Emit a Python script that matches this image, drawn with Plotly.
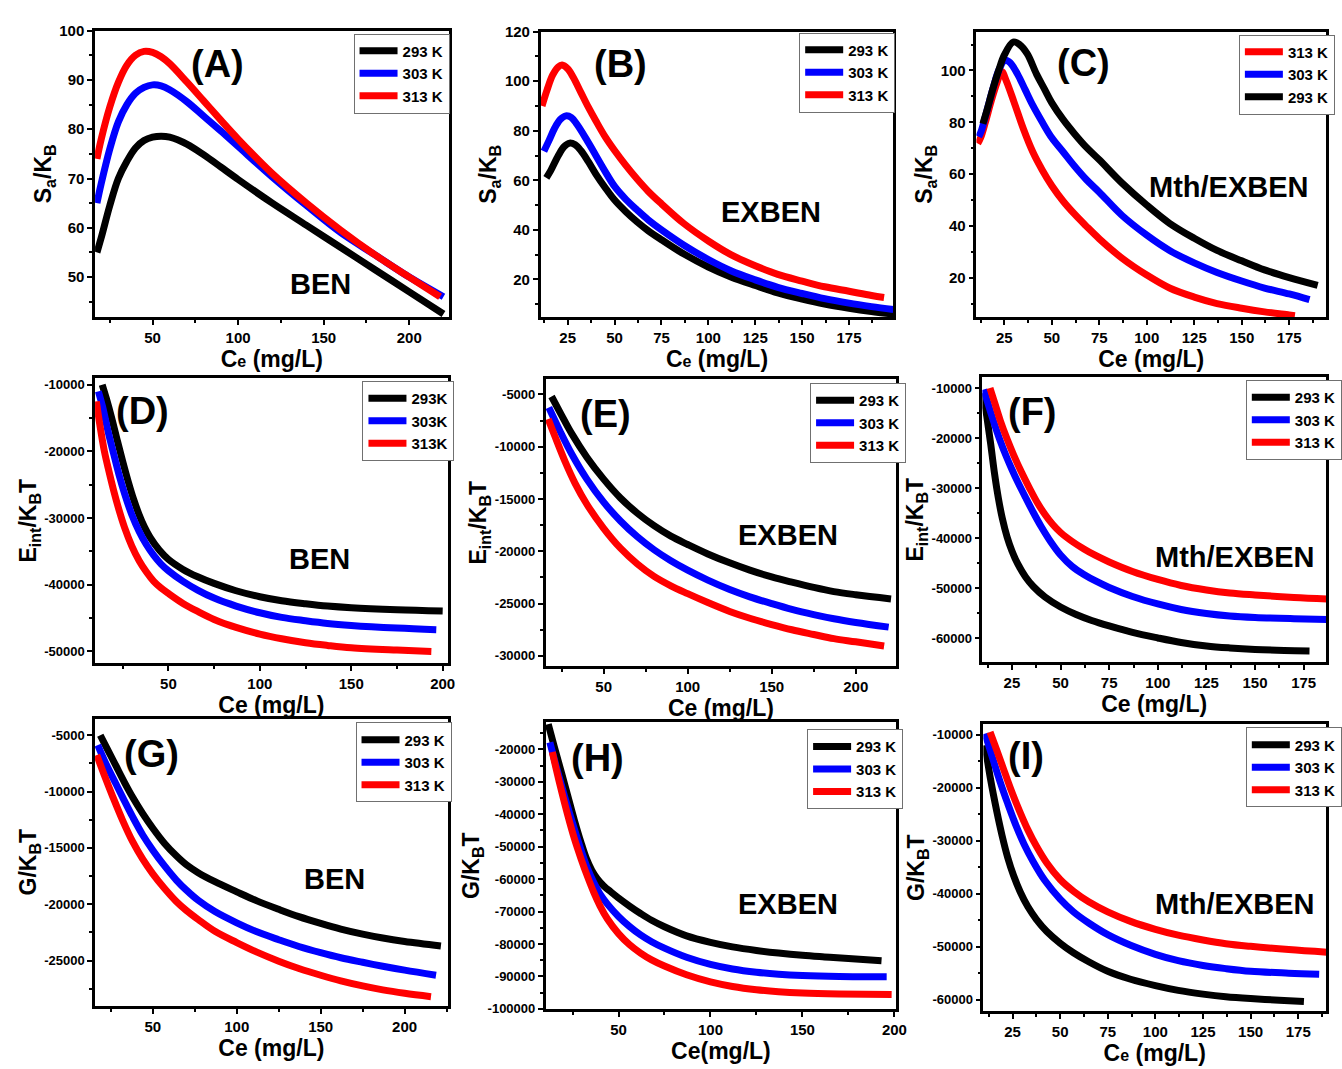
import plotly.graph_objects as go

W, H = 1342, 1069
FONT = "Liberation Sans"
BLACK, BLUE, RED = "#000000", "#0000ff", "#ff0000"

# ---------------- (A) BEN, S_a/K_B ----------------
A_X293 = [17.5, 20, 25, 30, 35, 40, 45, 50, 55, 60, 70, 80, 90, 100, 120, 140, 160, 180, 200, 220]
A_Y293 = [55, 58, 64.5, 70, 73.5, 76.2, 77.7, 78.4, 78.6, 78.4, 77, 74.8, 72.3, 69.8, 65, 60.5, 56, 51.5, 47, 42.5]
A_X303 = [17.5, 20, 25, 30, 35, 40, 45, 50, 55, 60, 70, 80, 90, 100, 120, 140, 160, 180, 200, 220]
A_Y303 = [65, 69, 76, 81.5, 85, 87.3, 88.5, 89, 88.8, 88, 85.6, 82.6, 79.6, 76.5, 70.3, 64.5, 59, 54.5, 50, 46]
A_X313 = [17.5, 20, 25, 30, 35, 40, 45, 50, 55, 60, 70, 80, 90, 100, 120, 140, 160, 180, 200, 218]
A_Y313 = [74, 78, 84.5, 89.5, 93, 95, 95.8, 95.6, 94.7, 93.3, 89.6, 85.7, 81.8, 78, 71, 65, 59.5, 54.5, 50, 46]
A_XTICKS = [50, 100, 150, 200]
A_YTICKS = [50, 60, 70, 80, 90, 100]

# ---------------- (B) EXBEN, S_a/K_B ----------------
B_X293 = [13.6, 16, 20, 23, 26, 29, 32, 36, 40, 45, 50, 56, 62, 68, 75, 87, 100, 112, 125, 137, 150, 162, 175, 187, 198.6]
B_Y293 = [61, 64, 70, 73.5, 75, 74.3, 72, 67.5, 62.5, 57, 52, 47.3, 43.2, 39.6, 36, 30.2, 25, 21, 17.5, 14.5, 12, 10, 8.3, 7, 6]
B_X303 = [12.3, 15, 18, 21, 24, 27, 30, 35, 40, 45, 50, 56, 62, 68, 75, 87, 100, 112, 125, 137, 150, 162, 175, 187, 198.6]
B_Y303 = [71.7, 76, 81, 84.5, 86, 85.3, 82.5, 76.5, 70, 63.5, 57.5, 52.3, 48, 44, 40, 33.8, 28, 23.5, 19.8, 16.8, 14.3, 12.2, 10.4, 9, 7.8]
B_X313 = [11.3, 14, 17, 20, 22, 25, 28, 32, 36, 40, 45, 50, 56, 62, 68, 75, 87, 100, 112, 125, 137, 150, 162, 175, 187, 193.7]
B_Y313 = [90, 96.5, 102.5, 105.8, 106.5, 105, 101.5, 95.5, 89.5, 84, 77.5, 72, 66, 60.5, 55.5, 50.5, 42.5, 35.5, 30, 25.5, 22, 19.3, 17, 15.2, 13.5, 12.7]
B_XTICKS = [25, 50, 75, 100, 125, 150, 175]
B_YTICKS = [20, 40, 60, 80, 100, 120]

# ---------------- (C) Mth/EXBEN, S_a/K_B ----------------
C_X313 = [11, 12.5, 15, 18, 21, 23.6, 26, 30, 35, 40, 45, 50, 56, 62, 68, 75, 87, 100, 112, 125, 137, 150, 162, 175, 178]
C_Y313 = [71.8, 74, 80, 88, 95, 99.6, 96, 88, 77.5, 68.5, 61.5, 55.5, 49.5, 44.5, 40, 35, 27.5, 21, 16, 12.5, 10, 8.2, 6.8, 5.6, 5.3]
C_X303 = [11.5, 13, 16, 19, 22, 25.3, 28, 32, 36, 40, 45, 50, 56, 62, 68, 75, 87, 100, 112, 125, 137, 150, 162, 175, 185.7]
C_Y303 = [74.4, 77, 85, 93, 100, 104, 103, 98.5, 92.5, 86.5, 80, 74, 68.5, 63, 58, 53, 44, 36.4, 30.5, 25.7, 22, 18.7, 16, 13.7, 11.5]
C_X293 = [13.7, 16, 19, 22, 25, 29.7, 33, 37, 42, 46, 50, 56, 62, 68, 75, 87, 100, 112, 125, 137, 150, 162, 175, 190]
C_Y293 = [79.4, 85, 93, 100, 106, 111, 110, 106.5, 98.5, 93, 87.5, 81, 75.5, 70.5, 65.5, 56.5, 48, 41, 35.2, 30.5, 26.5, 23, 20, 17]
C_XTICKS = [25, 50, 75, 100, 125, 150, 175]
C_YTICKS = [20, 40, 60, 80, 100]

# ---------------- (D) BEN, E_int/K_BT ----------------
D_X293 = [13.8, 16, 19, 22, 25, 28, 31, 34, 37, 40, 45, 50, 58, 66, 75, 87, 100, 112, 125, 137, 150, 175, 200]
D_Y293 = [-10000, -12000, -15000, -18300, -21500, -24500, -27200, -29500, -31400, -32900, -34800, -36200, -37700, -38800,
          -39800, -40900, -41800, -42400, -42850, -43200, -43450, -43750, -43950]
D_X303 = [11.7, 14, 17, 20, 23, 26, 30, 34, 38, 42, 46, 50, 58, 66, 75, 87, 100, 112, 125, 137, 150, 175, 196.5]
D_Y303 = [-11000, -13300, -17000, -20300, -23500, -26300, -29500, -32000, -34000, -35600, -36900, -37900, -39500, -40800,
          -42000, -43200, -44200, -44900, -45400, -45800, -46100, -46500, -46750]
D_X313 = [10.6, 12.5, 15, 17.5, 20, 23, 26, 30, 34, 38, 42, 46, 50, 58, 66, 75, 87, 100, 112, 125, 137, 150, 175, 193.8]
D_Y313 = [-12500, -16000, -20000, -23000, -25800, -28800, -31400, -34200, -36400, -38100, -39500, -40500, -41300, -42800,
          -44000, -45200, -46400, -47400, -48100, -48700, -49100, -49450, -49800, -50000]
D_XTICKS = [50, 100, 150, 200]
D_YTICKS = [-50000, -40000, -30000, -20000, -10000]

# ---------------- (E) EXBEN, E_int/K_BT ----------------
E_X293 = [19, 25, 31, 40, 50, 60, 70, 80, 90, 100, 112, 125, 137, 150, 162, 175, 187, 200, 221]
E_Y293 = [-5200, -7000, -8750, -11000, -13100, -14900, -16350, -17550, -18550, -19350, -20250, -21100, -21800, -22450,
          -22950, -23450, -23850, -24150, -24550]
E_X303 = [17.4, 24, 31, 40, 50, 60, 70, 80, 90, 100, 112, 125, 137, 150, 162, 175, 187, 200, 219.6]
E_Y303 = [-6250, -8500, -10700, -13100, -15300, -17100, -18600, -19850, -20900, -21800, -22750, -23650, -24350, -25000,
          -25550, -26050, -26450, -26800, -27250]
E_X313 = [17, 21, 27, 33, 40, 50, 60, 70, 80, 90, 100, 112, 125, 137, 150, 162, 175, 187, 200, 216.9]
E_Y313 = [-7350, -9000, -11400, -13500, -15500, -17800, -19700, -21200, -22400, -23300, -24050, -24900, -25750, -26400,
          -27000, -27500, -27950, -28350, -28650, -29050]
E_XTICKS = [50, 100, 150, 200]
E_YTICKS = [-30000, -25000, -20000, -15000, -10000, -5000]

# ---------------- (F) Mth/EXBEN, E_int/K_BT ----------------
F_X293 = [10.2, 12, 14, 16, 18, 20, 22.5, 25, 28, 32, 36, 42, 50, 58, 66, 75, 87, 100, 112, 125, 137, 150, 165, 178]
F_Y293 = [-11000, -15500, -21000, -27000, -32000, -36000, -39800, -42600, -45200, -47800, -49700, -51800, -53800, -55300,
          -56500, -57600, -58900, -60000, -60900, -61600, -62000, -62300, -62500, -62600]
F_X303 = [10.5, 13, 16, 19, 22, 25, 28, 32, 36, 40, 45, 50, 56, 62, 68, 75, 87, 100, 112, 125, 137, 150, 170, 187]
F_Y303 = [-10300, -13500, -17200, -20600, -23600, -26300, -28800, -31900, -34900, -37700, -40800, -43400, -45700, -47300,
          -48600, -49900, -51700, -53200, -54300, -55100, -55600, -55900, -56150, -56300]
F_X313 = [13.7, 16, 19, 22.5, 26, 30, 34, 38, 42, 46, 50, 56, 62, 68, 75, 87, 100, 112, 125, 137, 150, 170, 187]
F_Y313 = [-10000, -12800, -16500, -20200, -23500, -26900, -30000, -32900, -35300, -37300, -38900, -40700, -42200, -43500,
          -44800, -46700, -48300, -49500, -50400, -51000, -51400, -51900, -52200]
F_XTICKS = [25, 50, 75, 100, 125, 150, 175]
F_YTICKS = [-60000, -50000, -40000, -30000, -20000, -10000]

# ---------------- (G) BEN, G/K_BT ----------------
G_X293 = [18.7, 23, 28, 33, 38, 44, 50, 57, 64, 70, 77, 87, 100, 112, 125, 137, 150, 162, 175, 187, 200, 221.6]
G_Y293 = [-5000, -6250, -7700, -9150, -10500, -11950, -13250, -14600, -15700, -16500, -17200, -18000, -18900, -19700,
          -20450, -21100, -21700, -22200, -22650, -23000, -23300, -23700]
G_X303 = [17.2, 22, 28, 33, 38, 44, 50, 57, 64, 70, 77, 87, 100, 112, 125, 137, 150, 162, 175, 187, 200, 218.7]
G_Y303 = [-5870, -7500, -9300, -10800, -12250, -13850, -15200, -16600, -17850, -18750, -19650, -20650, -21650, -22450,
          -23150, -23750, -24300, -24750, -25150, -25500, -25850, -26300]
G_X313 = [16.6, 21, 26, 32, 38, 44, 50, 57, 64, 70, 77, 87, 100, 112, 125, 137, 150, 162, 175, 187, 200, 215.7]
G_Y313 = [-6750, -8500, -10400, -12550, -14450, -16000, -17300, -18600, -19750, -20550, -21350, -22400, -23400, -24250,
          -25050, -25700, -26300, -26800, -27250, -27600, -27900, -28200]
G_XTICKS = [50, 100, 150, 200]
G_YTICKS = [-25000, -20000, -15000, -10000, -5000]

# ---------------- (H) EXBEN, G/K_BT ----------------
H_X293 = [11.8, 15, 19, 22.5, 26, 29.5, 32.5, 35.5, 38.5, 42, 46, 50, 56, 62, 68, 75, 87, 100, 112, 125, 137, 150, 162, 175, 193]
H_Y293 = [-12200, -19000, -27200, -34500, -41800, -48500, -53600, -57300, -59900, -62100, -64000, -65800, -68300, -70600,
          -72700, -74700, -77500, -79500, -80900, -82000, -82800, -83500, -84000, -84500, -85200]
H_X303 = [12.7, 16.5, 20.7, 25, 29.5, 33, 36.5, 40, 44, 50, 56, 62, 68, 75, 87, 100, 112, 125, 137, 150, 170, 195.8]
H_Y303 = [-17800, -26000, -34500, -42700, -50800, -56500, -61000, -64600, -67700, -71500, -74600, -77200, -79300, -81300,
          -84100, -86300, -87700, -88700, -89300, -89700, -90000, -90100]
H_X313 = [14, 18, 22.5, 26, 29.5, 33, 36.5, 40, 44, 50, 56, 62, 68, 75, 87, 100, 112, 125, 137, 150, 170, 198.5]
H_Y313 = [-20800, -30500, -40500, -47500, -53500, -59000, -64000, -68300, -72300, -76800, -80200, -82800, -84900, -86800,
          -89500, -91700, -93100, -94100, -94700, -95100, -95400, -95600]
H_XTICKS = [50, 100, 150, 200]
H_YTICKS = [-100000, -90000, -80000, -70000, -60000, -50000, -40000, -30000, -20000]

# ---------------- (I) Mth/EXBEN, G/K_BT ----------------
I_X293 = [10.6, 13.5, 16.7, 19.5, 22.5, 25.5, 29, 33, 37.5, 43, 50, 57, 65, 75, 87, 100, 112, 125, 137, 150, 165, 178]
I_Y293 = [-12000, -18500, -24400, -29000, -33200, -36500, -39600, -42400, -44800, -47100, -49300, -51100, -52800, -54600,
          -56100, -57300, -58200, -58900, -59400, -59750, -60050, -60300]
I_X303 = [10.6, 14, 18.4, 22.5, 27, 31, 35.8, 42, 50, 57, 65, 75, 87, 100, 112, 125, 137, 150, 170, 186]
I_Y303 = [-9800, -13800, -18800, -23000, -27300, -30600, -33900, -37500, -41000, -43400, -45500, -47700, -49700, -51400,
          -52600, -53500, -54100, -54600, -54950, -55150]
I_X313 = [13.2, 16.5, 20.1, 24, 28.8, 33, 37.5, 43, 50, 57, 65, 75, 87, 100, 112, 125, 137, 150, 170, 190]
I_Y313 = [-9500, -12700, -16300, -20200, -24500, -27900, -31000, -34200, -37300, -39500, -41500, -43400, -45200, -46700,
          -47800, -48700, -49400, -49900, -50500, -51000]
I_XTICKS = [25, 50, 75, 100, 125, 150, 175]
I_YTICKS = [-60000, -50000, -40000, -30000, -20000, -10000]

SA = "S<sub>a</sub>/K<sub>B</sub>"
EI = "E<sub>int</sub>/K<sub>B</sub>T"
GK = "G/K<sub>B</sub>T"
CE_SMALL = "C<span style='font-size:16px'>e</span> (mg/L)"
CE = "Ce (mg/L)"

# frame: left, right, top, bottom (px); axis ranges; ticks; legend corner; label & material positions
PANELS = [
    dict(tag="(A)", mat="BEN", frame=(96, 453, 22, 313), xr=(16.4, 223), yr=(41.9, 100), xt=A_XTICKS, yt=A_YTICKS,
         ytick=15, ytitle=SA, xtitle=CE_SMALL, leg=(357, 25), tagpos=(220, 56), matpos=(324, 279),
         series=[("293 K", BLACK, A_X293, A_Y293), ("303 K", BLUE, A_X303, A_Y303), ("313 K", RED, A_X313, A_Y313)]),
    dict(tag="(B)", mat="EXBEN", frame=(546, 902, 23, 313), xr=(10.6, 198.6), yr=(4.8, 120), xt=B_XTICKS, yt=B_YTICKS,
         ytick=15, ytitle=SA, xtitle=CE_SMALL, leg=(807, 24), tagpos=(627, 56), matpos=(779, 206),
         series=[("293 K", BLACK, B_X293, B_Y293), ("303 K", BLUE, B_X303, B_Y303), ("313 K", RED, B_X313, B_Y313)]),
    dict(tag="(C)", mat="Mth/EXBEN", frame=(986, 1339, 23, 313), xr=(10.3, 194.4), yr=(4.8, 115), xt=C_XTICKS, yt=C_YTICKS,
         ytick=15, ytitle=SA, xtitle=CE, leg=(1251, 26), tagpos=(1094, 55), matpos=(1241, 181),
         series=[("313 K", RED, C_X313, C_Y313), ("303 K", BLUE, C_X303, C_Y303), ("293 K", BLACK, C_X293, C_Y293)]),
    dict(tag="(D)", mat="BEN", frame=(96, 452, 375, 665), xr=(9.9, 202.7), yr=(-51800, -9000), xt=D_XTICKS, yt=D_YTICKS,
         ytick=13, ytitle=EI, xtitle=CE, leg=(366, 378), tagpos=(144, 408), matpos=(323, 559),
         series=[("293K", BLACK, D_X293, D_Y293), ("303K", BLUE, D_X303, D_Y303), ("313K", RED, D_X313, D_Y313)]),
    dict(tag="(E)", mat="EXBEN", frame=(551, 905, 376, 668), xr=(15.5, 224.1), yr=(-31000, -3530), xt=E_XTICKS, yt=E_YTICKS,
         ytick=13, ytitle=EI, xtitle=CE, leg=(818, 380), tagpos=(611, 412), matpos=(796, 535),
         series=[("293 K", BLACK, E_X293, E_Y293), ("303 K", BLUE, E_X303, E_Y303), ("313 K", RED, E_X313, E_Y313)]),
    dict(tag="(F)", mat="Mth/EXBEN", frame=(992, 1339, 374, 664), xr=(9.8, 186.5), yr=(-64900, -7800), xt=F_XTICKS, yt=F_YTICKS,
         ytick=13, ytitle=EI, xtitle=CE, leg=(1258, 377), tagpos=(1043, 410), matpos=(1247, 557),
         series=[("293 K", BLACK, F_X293, F_Y293), ("303 K", BLUE, F_X303, F_Y303), ("313 K", RED, F_X313, F_Y313)]),
    dict(tag="(G)", mat="BEN", frame=(96, 452, 721, 1013), xr=(15.6, 225.6), yr=(-29020, -3515), xt=G_XTICKS, yt=G_YTICKS,
         ytick=13, ytitle=GK, xtitle=CE, leg=(359, 725), tagpos=(153, 757), matpos=(338, 884),
         series=[("293 K", BLACK, G_X293, G_Y293), ("303 K", BLUE, G_X303, G_Y303), ("313 K", RED, G_X313, G_Y313)]),
    dict(tag="(H)", mat="EXBEN", frame=(551, 905, 725, 1016), xr=(10.4, 201), yr=(-100000, -11700), xt=H_XTICKS, yt=H_YTICKS,
         ytick=13, ytitle=GK, xtitle="Ce(mg/L)", leg=(815, 732), tagpos=(603, 761), matpos=(796, 909),
         series=[("293 K", BLACK, H_X293, H_Y293), ("303 K", BLUE, H_X303, H_Y303), ("313 K", RED, H_X313, H_Y313)]),
    dict(tag="(I)", mat="Mth/EXBEN", frame=(993, 1339, 727, 1018), xr=(9.7, 189.6), yr=(-62050, -8080), xt=I_XTICKS, yt=I_YTICKS,
         ytick=13, ytitle=GK, xtitle=CE_SMALL, leg=(1258, 730), tagpos=(1036, 759), matpos=(1247, 909),
         series=[("293 K", BLACK, I_X293, I_Y293), ("303 K", BLUE, I_X303, I_Y303), ("313 K", RED, I_X313, I_Y313)]),
]


def fx(p):
    return p / W


def fy(p):
    return 1 - p / H


fig = go.Figure()
layout = dict(
    width=W, height=H, margin=dict(l=0, r=0, t=0, b=0),
    paper_bgcolor="white", plot_bgcolor="white",
    font=dict(family=FONT, color="black"),
    annotations=[],
)

for i, p in enumerate(PANELS, start=1):
    sfx = "" if i == 1 else str(i)
    xa, ya, lg = "x" + sfx, "y" + sfx, "legend" + sfx
    left, right, top, bottom = p["frame"]

    for name, color, xs, ys in p["series"]:
        fig.add_trace(go.Scatter(
            x=xs, y=ys, mode="lines", name=name,
            line=dict(color=color, width=7, shape="spline", smoothing=1.0),
            xaxis=xa, yaxis=ya, legend=lg,
        ))

    xstep = p["xt"][1] - p["xt"][0]
    ystep = p["yt"][1] - p["yt"][0]
    common = dict(showline=True, linewidth=2.5, linecolor="black", mirror=True,
                  showgrid=False, zeroline=False, ticks="outside", ticklen=5, tickwidth=2,
                  tickcolor="black", tickmode="array")
    layout["xaxis" + sfx] = dict(
        common, domain=[fx(left), fx(right)], anchor=ya, range=list(p["xr"]),
        tickvals=p["xt"], ticktext=[str(v) for v in p["xt"]],
        minor=dict(ticks="outside", ticklen=3, tickwidth=1.5, tickcolor="black",
                   tickmode="linear", tick0=0, dtick=xstep / 2),
        tickfont=dict(size=15, family=FONT, weight="bold"),
        title=dict(text=p["xtitle"], font=dict(size=23, family=FONT, weight="bold"), standoff=0),
    )
    layout["yaxis" + sfx] = dict(
        common, domain=[fy(bottom), fy(top)], anchor=xa, range=list(p["yr"]),
        tickvals=p["yt"], ticktext=[str(v) for v in p["yt"]],
        minor=dict(ticks="outside", ticklen=3, tickwidth=1.5, tickcolor="black",
                   tickmode="linear", tick0=0, dtick=ystep / 2),
        tickfont=dict(size=p["ytick"], family=FONT, weight="bold"),
        title=dict(text=p["ytitle"], font=dict(size=23, family=FONT, weight="bold"), standoff=2),
    )
    layout[lg] = dict(
        x=fx(p["leg"][0]), y=fy(p["leg"][1]), xanchor="left", yanchor="top",
        bgcolor="white", bordercolor="#707070", borderwidth=1,
        font=dict(size=15, family=FONT, weight="bold"),
        itemwidth=38, tracegroupgap=0, traceorder="normal",
    )
    layout["annotations"].append(dict(
        text=p["tag"], x=fx(p["tagpos"][0]), y=fy(p["tagpos"][1]), xref="paper", yref="paper",
        showarrow=False, xanchor="center", yanchor="middle",
        font=dict(size=38, family=FONT, weight="bold"),
    ))
    layout["annotations"].append(dict(
        text=p["mat"], x=fx(p["matpos"][0]), y=fy(p["matpos"][1]), xref="paper", yref="paper",
        showarrow=False, xanchor="center", yanchor="middle",
        font=dict(size=29, family=FONT, weight="bold"),
    ))

fig.update_layout(layout)
fig.write_html("out.html")
